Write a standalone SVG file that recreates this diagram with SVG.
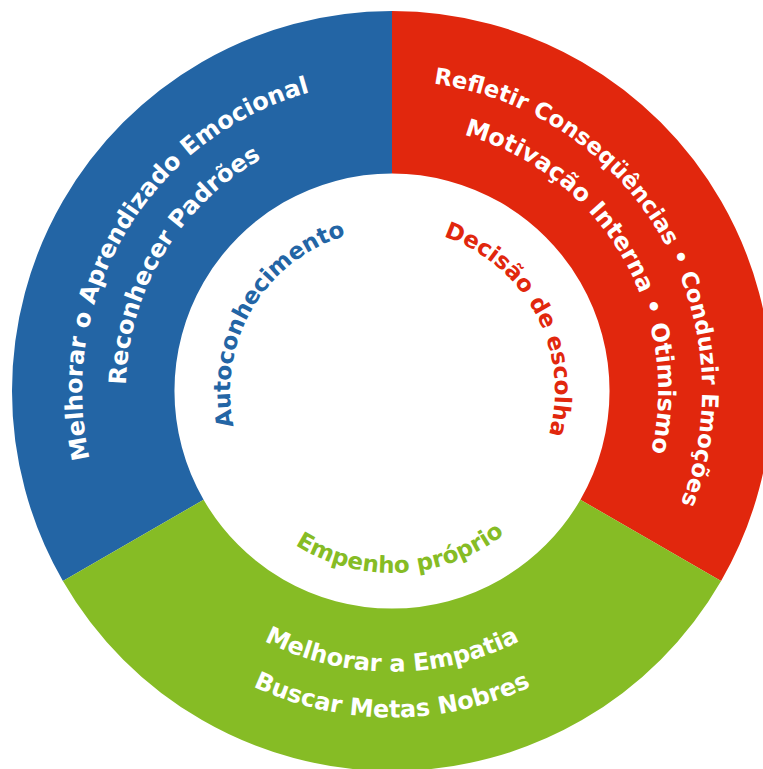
<svg xmlns="http://www.w3.org/2000/svg" width="763" height="769" viewBox="0 0 763 769">
  <style>
    .lbl { font-family: "DejaVu Sans", Verdana, sans-serif; font-weight: bold; text-anchor: middle; }
    .outer { font-size: 24px; fill: #ffffff; }
    .tight { font-size: 22.8px; }
    .inner { font-size: 23px; }
    .blue { fill: #2365a5; }
    .red { fill: #e1270d; }
    .green { fill: #86bc25; }
  </style>
  <defs>
    <!-- baselines for ring labels; each arc is centred on its sector's mid-angle -->
    <path id="arcBlue1" d="M209.8,641.8 A310,310 0 0 1 527.9,112.4"/>
    <path id="arcBlue2" d="M235.6,606.2 A266,266 0 0 1 508.6,151.9"/>
    <path id="arcRed1" d="M258.5,111.2 A310,310 0 0 1 572.0,643.4"/>
    <path id="arcRed2" d="M277.5,150.9 A266,266 0 0 1 546.5,607.6"/>
    <path id="arcGreen1" d="M112.1,415.5 A281,281 0 0 0 671.9,415.5"/>
    <path id="arcGreen2" d="M67.2,419.4 A326,326 0 0 0 716.8,419.4"/>
    <!-- baselines for the centre labels -->
    <path id="arcAuto" d="M297.9,522.9 A162,162 0 0 1 461.7,244.8"/>
    <path id="arcDecisao" d="M328.3,241.0 A163,163 0 0 1 480.8,527.7"/>
    <path id="arcEmpenho" d="M211.8,416.3 A182,182 0 0 0 573.9,397.4"/>
  </defs>

  <g id="autoconhecimento">
    <path class="blue" d="M62.9,581 A380,380 0 0 1 392,11 L392,173.5 A217.5,217.5 0 0 0 203.6,499.75 Z"/>
    <text class="lbl outer"><textPath href="#arcBlue1" startOffset="50%">Melhorar o Aprendizado Emocional</textPath></text>
    <text class="lbl outer"><textPath href="#arcBlue2" startOffset="50%">Reconhecer Padrões</textPath></text>
    <text class="lbl inner blue"><textPath href="#arcAuto" startOffset="50%">Autoconhecimento</textPath></text>
  </g>

  <g id="decisao-de-escolha">
    <path class="red" d="M392,11 A380,380 0 0 1 721.1,581 L580.4,499.75 A217.5,217.5 0 0 0 392,173.5 Z"/>
    <text class="lbl outer tight"><textPath href="#arcRed1" startOffset="50%">Refletir Conseqüências • Conduzir Emoções</textPath></text>
    <text class="lbl outer"><textPath href="#arcRed2" startOffset="50%">Motivação Interna • Otimismo</textPath></text>
    <text class="lbl inner red"><textPath href="#arcDecisao" startOffset="50%">Decisão de escolha</textPath></text>
  </g>

  <g id="empenho-proprio">
    <path class="green" d="M721.1,581 A380,380 0 0 1 62.9,581 L203.6,499.75 A217.5,217.5 0 0 0 580.4,499.75 Z"/>
    <text class="lbl outer"><textPath href="#arcGreen1" startOffset="50%">Melhorar a Empatia</textPath></text>
    <text class="lbl outer"><textPath href="#arcGreen2" startOffset="50%">Buscar Metas Nobres</textPath></text>
    <text class="lbl inner green"><textPath href="#arcEmpenho" startOffset="50%">Empenho próprio</textPath></text>
  </g>
</svg>
